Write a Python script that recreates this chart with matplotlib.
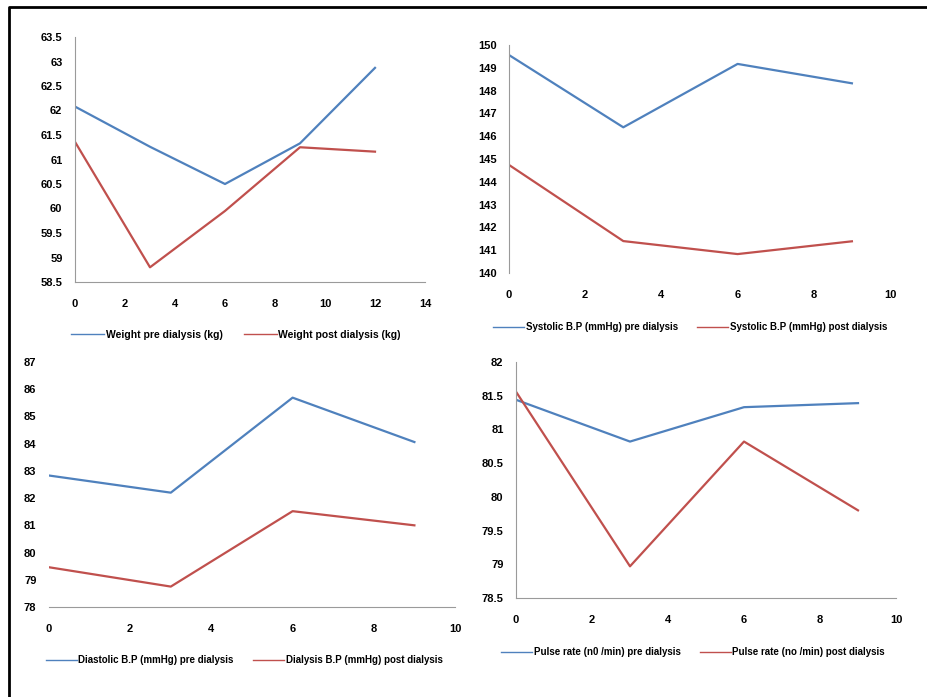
import numpy as np
import matplotlib
matplotlib.use("Agg")
import matplotlib.pyplot as plt
from matplotlib.lines import Line2D

# months of follow-up
months_weight = [0, 3, 6, 9, 12]
months = [0, 3, 6, 9]

weight_pre = [62.08, 61.26, 60.5, 61.33, 62.87]
weight_post = [61.36, 58.8, 59.95, 61.25, 61.16]

systolic_pre = [149.56, 146.39, 149.17, 148.32]
systolic_post = [144.74, 141.4, 140.83, 141.39]

diastolic_pre = [82.83, 82.2, 85.69, 84.06]
diastolic_post = [79.46, 78.75, 81.52, 81.0]

pulse_pre = [81.44, 80.82, 81.33, 81.39]
pulse_post = [81.56, 78.97, 80.82, 79.8]

labels = [
    ("Weight pre dialysis (kg)", "Weight post dialysis (kg)"),
    ("Systolic B.P (mmHg) pre dialysis", "Systolic B.P (mmHg) post dialysis"),
    ("Diastolic B.P (mmHg) pre dialysis", "Dialysis B.P (mmHg) post dialysis"),
    ("Pulse rate (n0 /min) pre dialysis", "Pulse rate (no /min) post dialysis"),
]

BLUE = "#4F81BD"
RED = "#C0504D"
W, H = 927, 697

plt.rcParams['font.family'] = ['Liberation Sans', 'DejaVu Sans']
plt.rcParams['font.weight'] = 'bold'

fig = plt.figure(figsize=(W / 100, H / 100), dpi=100)


def px_axes(l, r, t, b):
    return fig.add_axes([l / W, 1 - b / H, (r - l) / W, (b - t) / H])


def style(ax, xlim, xticks, ylim, yticks, show_left=True, show_bottom=True):
    ax.set_xlim(*xlim)
    ax.set_ylim(*ylim)
    ax.set_xticks(xticks)
    ax.set_yticks(yticks)
    ax.set_yticklabels([("%g" % v) for v in yticks])
    ax.tick_params(length=0, labelsize=8)
    ax.tick_params(axis='y', pad=9)
    ax.tick_params(axis='x', pad=12)
    for s in ['top', 'right']:
        ax.spines[s].set_visible(False)
    ax.spines['left'].set_visible(show_left)
    ax.spines['bottom'].set_visible(show_bottom)
    for s in ['left', 'bottom']:
        ax.spines[s].set_color('#9a9a9a')
        ax.spines[s].set_linewidth(0.8)
    ax.set_facecolor('none')


def add_legend(ax, labs, cx, cy, fs=7):
    handles = [Line2D([], [], color=BLUE, lw=1.0), Line2D([], [], color=RED, lw=1.0)]
    ax.legend(handles, labs, loc='center', bbox_to_anchor=(cx / W, 1 - cy / H),
              bbox_transform=fig.transFigure, ncol=2, frameon=False,
              fontsize=fs, handlelength=3.2, handletextpad=0.15, columnspacing=2.0)


# top left: weight
ax1 = px_axes(75, 425, 37, 282)
ax1.plot(months_weight, weight_pre, color=BLUE, lw=1.6)
ax1.plot(months_weight, weight_post, color=RED, lw=1.6)
style(ax1, (0, 14), np.arange(0, 15, 2), (58.5, 63.5), np.arange(58.5, 63.6, 0.5))
add_legend(ax1, labels[0], 236, 335, fs=7.5)

# top right: systolic
ax2 = px_axes(509, 890, 45, 273)
ax2.plot(months, systolic_pre, color=BLUE, lw=1.6)
ax2.plot(months, systolic_post, color=RED, lw=1.6)
style(ax2, (0, 10), np.arange(0, 11, 2), (140, 150), np.arange(140, 151, 1), show_bottom=False)
add_legend(ax2, labels[1], 690, 327)

# bottom left: diastolic
ax3 = px_axes(49, 455, 362, 607)
ax3.plot(months, diastolic_pre, color=BLUE, lw=1.6)
ax3.plot(months, diastolic_post, color=RED, lw=1.6)
style(ax3, (0, 10), np.arange(0, 11, 2), (78, 87), np.arange(78, 88, 1), show_left=False)
add_legend(ax3, labels[2], 244, 660)

# bottom right: pulse
ax4 = px_axes(516, 896, 362, 598)
ax4.plot(months, pulse_pre, color=BLUE, lw=1.6)
ax4.plot(months, pulse_post, color=RED, lw=1.6)
style(ax4, (0, 10), np.arange(0, 11, 2), (78.5, 82), np.arange(78.5, 82.1, 0.5))
add_legend(ax4, labels[3], 693, 652)

# black frame on top and left edge like the scanned figure
fig.add_artist(Line2D([9 / W, 9 / W, 1], [0, 1 - 7 / H, 1 - 7 / H],
                      transform=fig.transFigure, color='black', lw=2))

fig.savefig("out.png", dpi=100)
